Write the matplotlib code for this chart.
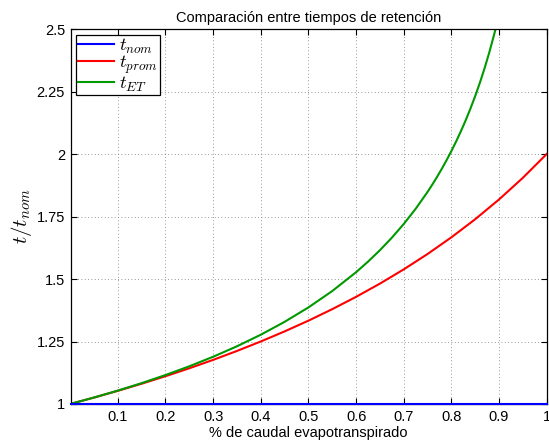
import matplotlib
matplotlib.use('Agg')
import matplotlib.pyplot as plt

plt.rcParams['font.family'] = ['Liberation Sans', 'DejaVu Sans']
plt.rcParams['mathtext.fontset'] = 'cm'

# fraction of flow lost to evapotranspiration
x_nom = [0.001, 1.0]
t_nom = [1.0, 1.0]

x_prom = [0.001, 0.05, 0.1, 0.15, 0.2, 0.25, 0.3, 0.35, 0.4, 0.45, 0.5,
          0.55, 0.6, 0.65, 0.7, 0.75, 0.8, 0.85, 0.9, 0.95, 1.0]
t_prom = [1.0005, 1.02564, 1.05263, 1.08108, 1.11111, 1.14286, 1.17647,
          1.21212, 1.25, 1.29032, 1.33333, 1.37931, 1.42857, 1.48148,
          1.53846, 1.6, 1.66667, 1.73913, 1.81818, 1.90476, 2.0]

x_et = [0.001, 0.05, 0.1, 0.15, 0.2, 0.25, 0.3, 0.35, 0.4, 0.45, 0.5,
        0.55, 0.6, 0.625, 0.65, 0.675, 0.7, 0.725, 0.75, 0.76, 0.77,
        0.78, 0.79, 0.8, 0.81, 0.82, 0.83, 0.84, 0.85, 0.86, 0.87, 0.88,
        0.89, 0.895]
t_et = [1.0005, 1.02587, 1.05361, 1.08346, 1.11572, 1.15073, 1.18892,
        1.23081, 1.27706, 1.32853, 1.38629, 1.45183, 1.52715, 1.56933,
        1.61511, 1.66508, 1.71996, 1.78067, 1.84839, 1.87778, 1.90867,
        1.94119, 1.97551, 2.01180, 2.05029, 2.09122, 2.13489, 2.18164,
        2.23191, 2.28618, 2.34508, 2.40939, 2.48009, 2.51821]

fig = plt.figure(figsize=(5.49, 4.47), dpi=100)
ax = fig.add_axes([0.1286, 0.0962, 0.8672, 0.8389])

ax.plot(x_nom, t_nom, color='#0000ff', linewidth=1.5, label='$t_{nom}$',
        clip_on=False, zorder=5)
ax.plot(x_prom, t_prom, color='#ff0000', linewidth=1.5, label='$t_{prom}$')
ax.plot(x_et, t_et, color='#009900', linewidth=1.5, label='$t_{ET}$')

ax.set_xlim(0.001, 1.0)
ax.set_ylim(1.0, 2.5)
ax.set_xticks([0.1, 0.2, 0.3, 0.4, 0.5, 0.6, 0.7, 0.8, 0.9, 1.0])
ax.set_xticklabels(['0.1', '0.2', '0.3', '0.4', '0.5', '0.6', '0.7',
                    '0.8', '0.9', '1'])
ax.set_yticks([1.0, 1.25, 1.5, 1.75, 2.0, 2.25, 2.5])
ax.set_yticklabels(['1', '1.25', '1.5', '1.75', '2', '2.25', '2.5'])

ax.tick_params(direction='in', top=True, right=True, labelsize=10.5,
               length=4, width=0.8, pad=4)
ax.grid(True, linestyle=(0, (1, 3)), color='#777777', linewidth=0.6)
for s in ax.spines.values():
    s.set_linewidth(0.9)

ax.set_title('Comparación entre tiempos de retención', fontsize=10.5, pad=5)
ax.set_xlabel('% de caudal evapotranspirado', fontsize=10.5, labelpad=1.5)
ax.set_ylabel('$t/t_{nom}$', fontsize=15, labelpad=2)

leg = ax.legend(loc='upper left', fontsize=13.5, frameon=True, fancybox=False,
                borderaxespad=0.3, handlelength=1.9, handletextpad=0.3,
                labelspacing=-0.1, borderpad=0.1)
leg.get_frame().set_edgecolor('black')
leg.get_frame().set_linewidth(0.9)
leg.get_frame().set_alpha(1)

fig.savefig('out.png', dpi=100)
